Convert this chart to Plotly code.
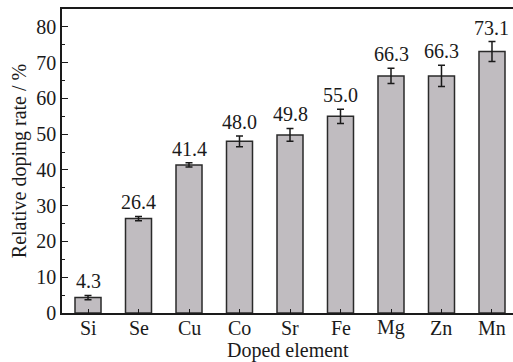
import plotly.graph_objects as go

# Relative doping rate by doped element (mean ± error)
elements = ["Si", "Se", "Cu", "Co", "Sr", "Fe", "Mg", "Zn", "Mn"]
rates = [4.3, 26.4, 41.4, 48.0, 49.8, 55.0, 66.3, 66.3, 73.1]
errors = [0.6, 0.6, 0.6, 1.5, 1.8, 2.0, 2.1, 3.0, 2.8]
value_labels = [f"{v:.1f}" for v in rates]

FONT = "Liberation Serif"
BAR_FILL = "#c0bcc0"
INK = "#1a1a1a"
PLOT_H = 304  # plot-area height in px, used to place labels under the axis

fig = go.Figure()

fig.add_trace(go.Bar(
    x=list(range(len(elements))),
    y=rates,
    width=0.515,
    marker=dict(color=BAR_FILL, line=dict(color="#2a2a2a", width=1.5)),
    error_y=dict(type="data", array=errors, visible=True,
                 color=INK, thickness=1.5, width=3.5),
    showlegend=False,
))

# value labels sit just above each error bar
for i, (v, e, t) in enumerate(zip(rates, errors, value_labels)):
    fig.add_annotation(
        x=i, y=v + e, text=t, showarrow=False,
        xanchor="center", yanchor="bottom", yshift=1,
        font=dict(family=FONT, size=20, color=INK),
    )

# category labels, set tight under the axis
for i, name in enumerate(elements):
    fig.add_annotation(
        x=i, y=-14.5 / PLOT_H, xref="x", yref="paper",
        text=name, showarrow=False, borderpad=0,
        xanchor="center", yanchor="middle",
        font=dict(family=FONT, size=20, color=INK),
    )

# x-axis title
fig.add_annotation(
    x=0.5, y=-37.5 / PLOT_H, xref="paper", yref="paper",
    text="Doped element", showarrow=False, borderpad=0,
    xanchor="center", yanchor="middle",
    font=dict(family=FONT, size=20, color=INK),
)

fig.update_layout(
    width=513, height=362,
    margin=dict(l=62, r=0, t=9, b=49),
    plot_bgcolor="white", paper_bgcolor="white",
    font=dict(family=FONT, size=20, color=INK),
    bargap=0.3,
)

fig.update_xaxes(
    range=[-0.515, 8.416],
    tickmode="array",
    tickvals=list(range(len(elements))),
    showticklabels=False,
    ticks="inside", ticklen=4, tickwidth=1.2, tickcolor=INK,
    showline=True, linecolor=INK, linewidth=1.5, mirror=True,
    showgrid=False, zeroline=False,
)

fig.update_yaxes(
    range=[0, 85],
    tickmode="linear", tick0=0, dtick=10,
    ticks="inside", ticklen=6, tickwidth=1.2, tickcolor=INK,
    minor=dict(ticks="inside", ticklen=3, dtick=5, tickcolor=INK, tickwidth=1.2),
    showline=True, linecolor=INK, linewidth=1.5, mirror=False,
    showgrid=False, zeroline=False,
    tickfont=dict(family=FONT, size=20, color=INK),
    title=dict(text="Relative doping rate / %", standoff=4,
               font=dict(family=FONT, size=20, color=INK)),
)

fig.write_html("out.html")
